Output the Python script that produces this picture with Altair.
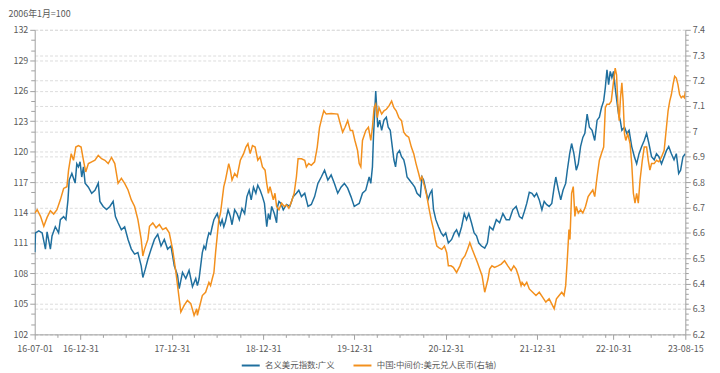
import altair as alt
import pandas as pd

# ---- data (decimal year, value) ----
usd_t = [2016.500, 2016.507, 2016.543, 2016.580, 2016.616, 2016.634, 2016.670, 2016.688, 2016.724, 2016.760,
         2016.779, 2016.815, 2016.840, 2016.862, 2016.876, 2016.905, 2016.941, 2016.959, 2016.977, 2016.995,
         2017.013, 2017.032, 2017.050, 2017.086, 2017.122, 2017.158, 2017.194, 2017.212, 2017.248, 2017.285,
         2017.321, 2017.357, 2017.382, 2017.411, 2017.447, 2017.483, 2017.520, 2017.556, 2017.592, 2017.628,
         2017.664, 2017.682, 2017.708, 2017.737, 2017.773, 2017.809, 2017.845, 2017.881, 2017.917, 2017.953,
         2017.990, 2018.026, 2018.062, 2018.080, 2018.116, 2018.152, 2018.188, 2018.225, 2018.261,
         2018.279, 2018.297, 2018.315, 2018.333, 2018.351, 2018.369, 2018.387, 2018.405, 2018.423, 2018.441,
         2018.460, 2018.478, 2018.496, 2018.514, 2018.532, 2018.550, 2018.568, 2018.586, 2018.615, 2018.640,
         2018.658, 2018.687, 2018.713, 2018.738, 2018.767, 2018.796, 2018.821, 2018.846, 2018.868, 2018.893,
         2018.919, 2018.940, 2018.966, 2018.991, 2019.013, 2019.038, 2019.056, 2019.074, 2019.092, 2019.121,
         2019.146, 2019.157, 2019.172, 2019.193, 2019.219, 2019.255, 2019.291, 2019.327, 2019.363, 2019.389,
         2019.418, 2019.454, 2019.490, 2019.526, 2019.562, 2019.598, 2019.635, 2019.671, 2019.707, 2019.743,
         2019.779, 2019.815, 2019.851, 2019.888, 2019.924, 2019.960, 2019.996, 2020.032,
         2020.050, 2020.086, 2020.122, 2020.141, 2020.159, 2020.177, 2020.195, 2020.206, 2020.217, 2020.231,
         2020.242, 2020.253, 2020.274, 2020.296, 2020.321, 2020.347, 2020.368, 2020.390, 2020.412, 2020.430,
         2020.448, 2020.466, 2020.491, 2020.513, 2020.538, 2020.556, 2020.574, 2020.600, 2020.629, 2020.658,
         2020.683, 2020.719, 2020.737, 2020.755, 2020.780, 2020.802, 2020.827, 2020.846, 2020.864, 2020.889,
         2020.918, 2020.947, 2020.972, 2020.997, 2021.026, 2021.062, 2021.091, 2021.116, 2021.142, 2021.171,
         2021.200, 2021.225, 2021.250, 2021.279, 2021.308, 2021.334, 2021.359, 2021.388, 2021.424, 2021.453,
         2021.478, 2021.514, 2021.551, 2021.587, 2021.623, 2021.659, 2021.695, 2021.731, 2021.768, 2021.804,
         2021.833, 2021.858, 2021.884, 2021.912, 2021.941, 2021.967, 2021.992, 2022.021, 2022.050, 2022.075,
         2022.100, 2022.129, 2022.158, 2022.184, 2022.202, 2022.231, 2022.256, 2022.281, 2022.310, 2022.328,
         2022.354, 2022.375, 2022.400, 2022.426, 2022.448, 2022.473, 2022.498, 2022.520, 2022.545, 2022.570,
         2022.599, 2022.628, 2022.654, 2022.679, 2022.701, 2022.726, 2022.744, 2022.762, 2022.780, 2022.798,
         2022.816, 2022.834, 2022.852, 2022.870, 2022.889, 2022.907, 2022.925, 2022.954, 2022.979, 2023.004,
         2023.033, 2023.062, 2023.087, 2023.113, 2023.142, 2023.170, 2023.196, 2023.221, 2023.250, 2023.279,
         2023.304, 2023.330, 2023.359, 2023.388, 2023.413, 2023.438, 2023.467, 2023.496, 2023.521, 2023.547,
         2023.568, 2023.594, 2023.620]
usd_v = [110.1, 112.0, 112.2, 112.0, 110.4, 112.1, 110.4, 111.7, 112.6, 112.0,
         113.3, 113.6, 113.3, 115.2, 117.2, 117.85, 116.9, 118.8, 118.5, 119.0,
         117.5, 118.5, 116.9, 116.5, 115.9, 116.2, 116.9, 115.1, 114.6, 114.3,
         114.6, 115.1, 113.6, 113.0, 112.3, 112.6, 111.35, 110.4, 109.9, 110.05,
         108.75, 107.6, 108.4, 109.4, 110.4, 111.35, 111.85, 110.7, 111.35, 110.4,
         110.7, 108.75, 107.8, 106.5, 108.1, 107.5, 108.3, 106.7, 107.5,
         106.8, 107.45, 108.75, 110.05, 110.7, 110.4, 111.35, 112.0, 111.85, 112.6,
         113.3, 113.6, 113.9, 113.3, 112.8, 113.3, 112.6, 113.1, 114.27, 113.6,
         112.8, 114.27, 113.9, 113.3, 114.4, 113.9, 115.57, 116.2, 115.25, 116.5,
         115.9, 116.7, 116.2, 115.57, 114.9, 112.6, 113.9, 113.3, 114.6, 113.9,
         113.0, 114.6, 115.1, 114.9, 114.27, 114.8, 114.6, 115.57, 115.9, 116.2,
         115.57, 115.9, 114.6, 114.8, 115.57, 116.87, 117.5, 118.17, 117.2, 117.7,
         116.87, 115.9, 116.5, 116.87, 116.4, 115.57, 114.6, 114.8,
         114.9, 115.9, 116.2, 116.87, 117.5, 116.87, 118.5, 121.4, 123.4, 125.96,
         124.3, 122.4, 123.1, 122.1, 123.1, 123.4, 122.4, 122.1, 120.5, 119.2,
         118.5, 119.8, 120.1, 119.5, 119.2, 118.5, 117.5, 117.2, 116.87, 116.5,
         115.9, 115.57, 117.5, 117.2, 116.2, 115.25, 115.9, 116.2, 114.27, 113.3,
         112.6, 112.0, 111.7, 112.0, 111.0, 111.35, 112.0, 112.3, 111.7, 112.6,
         113.9, 113.3, 113.9, 113.0, 112.0, 111.7, 111.0, 110.7, 110.5, 111.0,
         112.6, 112.3, 113.3, 113.0, 113.9, 113.3, 113.3, 114.27, 114.6, 113.6,
         113.4, 114.1, 114.9, 116.0, 115.9, 115.57, 115.9, 115.25, 114.27, 115.1,
         114.8, 114.6, 114.9, 116.5, 117.5, 116.2, 115.25, 116.2, 116.87, 118.17,
         119.8, 120.8, 119.8, 118.17, 118.8, 120.5, 121.4, 121.8, 123.7, 122.4,
         122.1, 121.1, 123.1, 123.4, 124.3, 125.0, 126.3, 128.07, 126.6, 127.9,
         127.3, 127.9, 126.3, 125.0, 123.7, 123.1, 122.1, 122.4, 121.8, 122.1,
         120.5, 119.5, 118.8, 119.8, 120.5, 121.1, 121.8, 120.8, 119.5, 119.2,
         119.8, 119.5, 118.8, 119.5, 120.1, 120.5, 119.8, 119.2, 119.8, 117.85,
         118.17, 119.5, 119.8]

cny_t = [2016.500, 2016.525, 2016.562, 2016.598, 2016.634, 2016.670, 2016.706, 2016.742, 2016.779, 2016.815,
         2016.851, 2016.869, 2016.898, 2016.923, 2016.948, 2016.977, 2017.006, 2017.032, 2017.057, 2017.086,
         2017.122, 2017.158, 2017.194, 2017.230, 2017.267, 2017.303, 2017.339, 2017.375, 2017.411, 2017.447,
         2017.483, 2017.520, 2017.556, 2017.592, 2017.628, 2017.664, 2017.682, 2017.700, 2017.737, 2017.755,
         2017.791, 2017.827, 2017.863, 2017.899, 2017.935, 2017.971, 2018.008, 2018.044, 2018.080, 2018.098,
         2018.134, 2018.170, 2018.207, 2018.243, 2018.272,
         2018.279, 2018.297, 2018.333, 2018.369, 2018.405, 2018.423, 2018.441, 2018.460, 2018.478, 2018.496,
         2018.514, 2018.532, 2018.550, 2018.568, 2018.586, 2018.622, 2018.640, 2018.658, 2018.687, 2018.713,
         2018.749, 2018.785, 2018.810, 2018.832, 2018.857, 2018.882, 2018.911, 2018.940, 2018.966, 2018.991,
         2019.020, 2019.038, 2019.056, 2019.074, 2019.092, 2019.110, 2019.128, 2019.146, 2019.172, 2019.201,
         2019.230, 2019.255, 2019.280, 2019.309, 2019.338, 2019.363, 2019.381, 2019.418, 2019.454, 2019.472,
         2019.497, 2019.526, 2019.562, 2019.591, 2019.616, 2019.642, 2019.663, 2019.689, 2019.743, 2019.815,
         2019.844, 2019.869, 2019.895, 2019.924, 2019.953, 2019.978, 2020.003, 2020.032, 2020.050,
         2020.068, 2020.086, 2020.122, 2020.151, 2020.177, 2020.195, 2020.213, 2020.231, 2020.249, 2020.267,
         2020.296, 2020.321, 2020.347, 2020.376, 2020.405, 2020.430, 2020.455, 2020.484, 2020.513, 2020.538,
         2020.564, 2020.592, 2020.621, 2020.647, 2020.672, 2020.701, 2020.719, 2020.737, 2020.766, 2020.791,
         2020.817, 2020.838, 2020.864, 2020.882, 2020.900, 2020.925, 2020.954, 2020.983, 2021.008, 2021.026,
         2021.055, 2021.080, 2021.116, 2021.153, 2021.178, 2021.207, 2021.236, 2021.261, 2021.287, 2021.316,
         2021.344, 2021.370, 2021.395, 2021.424, 2021.442, 2021.460, 2021.478, 2021.503, 2021.532, 2021.569,
         2021.605, 2021.641, 2021.677, 2021.713, 2021.742, 2021.768, 2021.793, 2021.822,
         2021.833, 2021.858, 2021.884, 2021.912, 2021.949, 2021.985, 2022.021, 2022.057, 2022.093, 2022.129,
         2022.166, 2022.184, 2022.209, 2022.238, 2022.267, 2022.292, 2022.310, 2022.328, 2022.346, 2022.357,
         2022.375, 2022.393, 2022.411, 2022.426, 2022.448, 2022.473, 2022.498, 2022.527, 2022.556, 2022.581,
         2022.607, 2022.628, 2022.654, 2022.679, 2022.701, 2022.726, 2022.744, 2022.762, 2022.787, 2022.809,
         2022.834, 2022.852, 2022.867, 2022.881, 2022.896, 2022.910, 2022.925, 2022.939, 2022.954, 2022.968,
         2022.990, 2023.015, 2023.033, 2023.051, 2023.069, 2023.087, 2023.105, 2023.124, 2023.149, 2023.170,
         2023.196, 2023.214, 2023.232, 2023.250, 2023.279, 2023.304, 2023.330, 2023.359, 2023.388, 2023.413,
         2023.431, 2023.449, 2023.467, 2023.485, 2023.503, 2023.521, 2023.539, 2023.557, 2023.575, 2023.594,
         2023.610, 2023.620]
cny_v = [6.678, 6.691, 6.665, 6.626, 6.661, 6.687, 6.674, 6.691, 6.730, 6.775,
         6.782, 6.847, 6.912, 6.886, 6.938, 6.944, 6.938, 6.886, 6.840, 6.873,
         6.880, 6.886, 6.905, 6.892, 6.886, 6.873, 6.897, 6.873, 6.795, 6.815,
         6.795, 6.769, 6.730, 6.704, 6.652, 6.574, 6.509, 6.535, 6.574, 6.626,
         6.639, 6.620, 6.633, 6.613, 6.620, 6.600, 6.535, 6.444, 6.340, 6.288,
         6.314, 6.334, 6.321, 6.275, 6.301,
         6.275, 6.301, 6.353, 6.366, 6.405, 6.392, 6.418, 6.444, 6.522, 6.587,
         6.652, 6.678, 6.730, 6.782, 6.808, 6.873, 6.847, 6.808, 6.834, 6.821,
         6.886, 6.912, 6.938, 6.951, 6.912, 6.944, 6.938, 6.886, 6.899, 6.860,
         6.847, 6.795, 6.756, 6.782, 6.756, 6.730, 6.756, 6.704, 6.691, 6.717,
         6.704, 6.710, 6.697, 6.723, 6.756, 6.821, 6.892, 6.892, 6.886, 6.860,
         6.873, 6.866, 6.880, 6.938, 7.016, 7.054, 7.081, 7.068, 7.070, 7.068,
         7.029, 6.997, 7.016, 7.042, 7.003, 7.003, 6.964, 6.925, 6.873,
         6.860, 6.964, 7.003, 7.016, 6.964, 7.016, 7.093, 7.107, 7.054, 7.093,
         7.068, 7.081, 7.087, 7.100, 7.119, 7.093, 7.081, 7.054, 7.042, 6.997,
         6.984, 6.977, 6.938, 6.912, 6.873, 6.834, 6.808, 6.821, 6.782, 6.743,
         6.691, 6.652, 6.613, 6.574, 6.548, 6.541, 6.535, 6.548, 6.522, 6.470,
         6.470, 6.464, 6.444, 6.470, 6.496, 6.509, 6.535, 6.561, 6.535, 6.509,
         6.483, 6.457, 6.431, 6.366, 6.392, 6.418, 6.457, 6.470, 6.464, 6.470,
         6.477, 6.490, 6.470, 6.451, 6.470, 6.457, 6.431, 6.392,
         6.405, 6.392, 6.405, 6.379, 6.366, 6.353, 6.366, 6.347, 6.327, 6.340,
         6.314, 6.301, 6.340, 6.353, 6.366, 6.353, 6.392, 6.496, 6.613, 6.574,
         6.756, 6.782, 6.665, 6.704, 6.678, 6.691, 6.678, 6.704, 6.743, 6.756,
         6.769, 6.743, 6.821, 6.886, 6.912, 6.938, 7.093, 7.107, 7.107, 7.119,
         7.197, 7.249, 7.223, 7.107, 7.042, 7.132, 7.191, 7.119, 6.990, 6.964,
         6.990, 6.951, 6.873, 6.756, 6.717, 6.756, 6.717, 6.808, 6.886, 6.938,
         6.938, 6.886, 6.847, 6.873, 6.873, 6.886, 6.880, 6.899, 6.925, 7.016,
         7.081, 7.119, 7.145, 7.184, 7.217, 7.210, 7.184, 7.145, 7.132, 7.139,
         7.132, 7.158]

SERIES = ["名义美元指数:广义", "中国:中间价:美元兑人民币(右轴)"]
COLORS = ["#1f6f9e", "#f3901d"]
X_LABELS = ["2016-07-01", "2016-12-31", "2017-12-31", "2018-12-31", "2019-12-31",
            "2020-12-31", "2021-12-31", "2022-10-31", "2023-08-15"]
LEFT_TITLE = "2006年1月=100"


def year_to_ms(t):
    ts = pd.Timestamp("2016-01-01") + pd.to_timedelta((t - 2016.0) * 365.25, unit="D")
    return int(ts.value // 10**6)


def date_ms(s):
    return int(pd.Timestamp(s).value // 10**6)


df_usd = pd.DataFrame({"date": [year_to_ms(t) for t in usd_t], "value": usd_v, "series": SERIES[0]})
df_cny = pd.DataFrame({"date": [year_to_ms(t) for t in cny_t], "value": cny_v, "series": SERIES[1]})

label_ms = [date_ms(s) for s in X_LABELS]
quarter_ms = [date_ms(d) for d in pd.date_range("2016-09-30", "2023-06-30", freq="QE")]
x_ticks = sorted(set(label_ms + quarter_ms))
label_list = ",".join("'" + s[2:] + "'" for s in X_LABELS)
x_test = f"indexof([{label_list}], utcFormat(datum.value, '%y-%m-%d')) >= 0"

FONT = "Noto Sans CJK SC"
TXT = "#595959"
AX = "#a0a0a0"
GRID = "#dcdcdc"

x_enc = alt.X(
    "date:T",
    scale=alt.Scale(type="utc", domain=[label_ms[0], label_ms[-1]], nice=False),
    axis=alt.Axis(
        values=x_ticks,
        labelExpr=f"{x_test} ? utcFormat(datum.value, '%y-%m-%d') : ''",
        labelOverlap=False, labelFlush=False, grid=False,
        tickSize={"condition": {"test": x_test, "value": 5}, "value": 3},
        tickColor=AX, domainColor=AX, labelColor=TXT, labelFont=FONT,
        labelFontSize=9, labelPadding=5, title=None,
    ),
)

color_enc = alt.Color(
    "series:N",
    scale=alt.Scale(domain=SERIES, range=COLORS),
    legend=alt.Legend(
        title=None, orient="none", direction="horizontal",
        legendX=208, legendY=329,
        symbolType="stroke", symbolStrokeWidth=2, symbolSize=330,
        labelFont=FONT, labelFontSize=8.5, labelColor=TXT,
        columnPadding=14, labelOffset=4,
    ),
)

left_values = list(range(102, 133))
left_test = "(datum.value - 102) % 3 == 0"
left = alt.Chart(df_usd).mark_line(strokeWidth=1.5, clip=True).encode(
    x=x_enc,
    y=alt.Y(
        "value:Q",
        scale=alt.Scale(domain=[102, 132], nice=False, zero=False),
        axis=alt.Axis(
            orient="left", values=left_values,
            labelExpr=f"{left_test} ? datum.label : ''",
            labelOverlap=False,
            tickSize={"condition": {"test": left_test, "value": 5}, "value": 4},
            grid=True, gridColor=GRID, gridDash=[3, 2],
            gridOpacity={"condition": {"test": left_test, "value": 1}, "value": 0},
            tickColor=AX, domainColor=AX, labelColor=TXT, labelFont=FONT,
            labelFontSize=9, labelPadding=2,
            title=LEFT_TITLE, titleAngle=0, titleAlign="left", titleBaseline="alphabetic",
            titleX=-27, titleY=-13, titleFont=FONT, titleFontSize=9,
            titleFontWeight="normal", titleColor=TXT,
        ),
    ),
    color=color_enc,
)

right_values = [round(6.2 + 0.02 * i, 2) for i in range(61)]
right_test = "abs(datum.value * 10 - round(datum.value * 10)) < 0.001"
right = alt.Chart(df_cny).mark_line(strokeWidth=1.5, clip=True).encode(
    x=x_enc,
    y=alt.Y(
        "value:Q",
        scale=alt.Scale(domain=[6.2, 7.4], nice=False, zero=False),
        axis=alt.Axis(
            orient="right", values=right_values,
            labelExpr=f"{right_test} ? toString(round(datum.value * 10) / 10) : ''",
            labelOverlap=False,
            tickSize={"condition": {"test": right_test, "value": 5}, "value": 3},
            grid=True, gridColor=GRID, gridDash=[3, 2],
            gridOpacity={"condition": {"test": right_test, "value": 1}, "value": 0},
            tickColor=AX, domainColor=AX, labelColor=TXT, labelFont=FONT,
            labelFontSize=9, labelPadding=2, title=None,
        ),
    ),
    color=color_enc,
)

chart = (
    alt.layer(left, right)
    .resolve_scale(y="independent")
    .properties(
        width=658, height=308,
        autosize=alt.AutoSizeParams(type="none"),
        padding={"left": 27, "top": 20, "right": 27, "bottom": 37},
        background="white",
    )
    .configure_view(stroke=None)
)

chart.save("out.html", embed_options={"renderer": "svg", "actions": False})
